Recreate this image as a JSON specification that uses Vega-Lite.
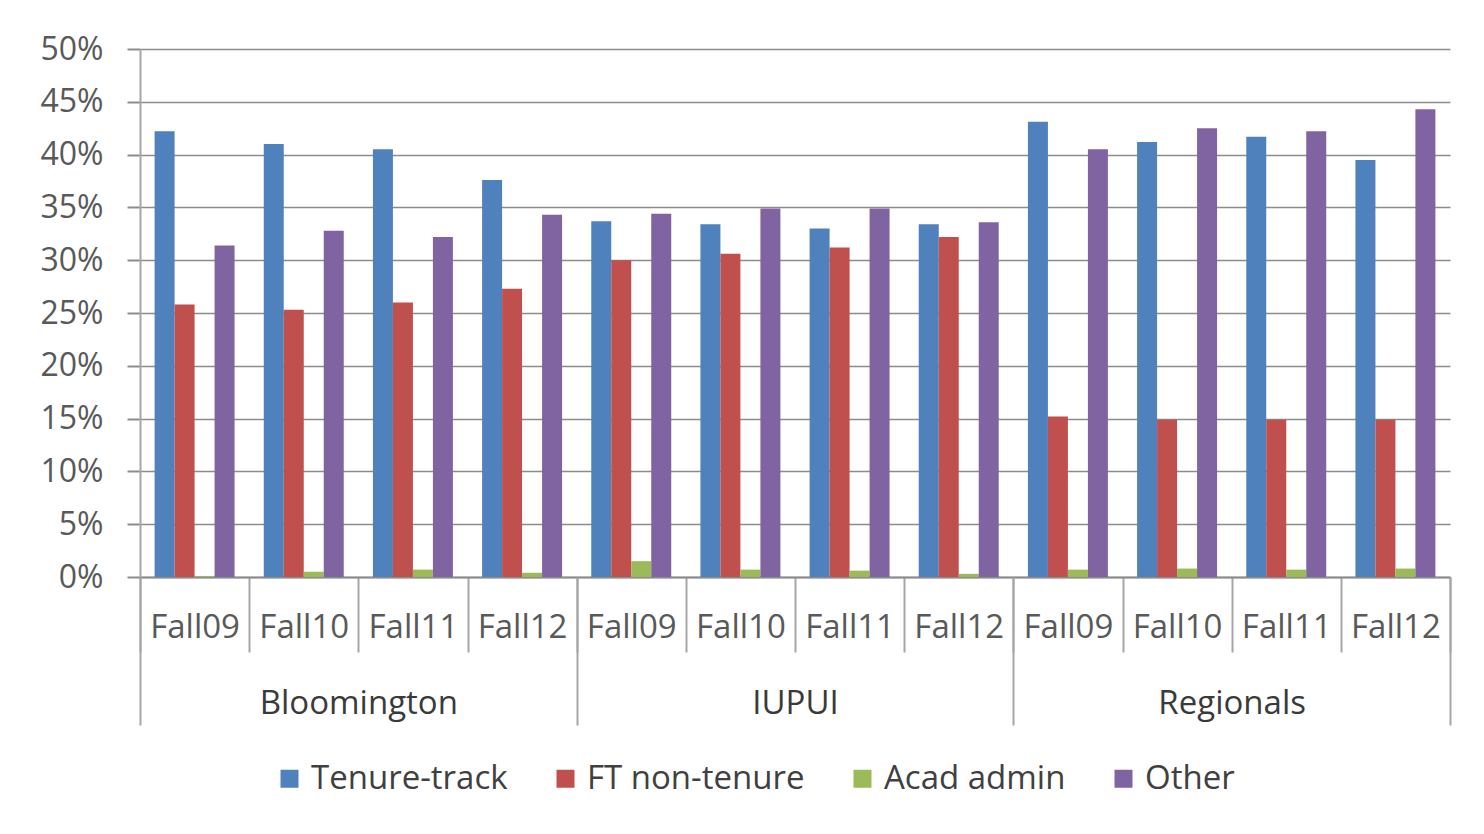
{
  "$schema": "https://vega.github.io/schema/vega-lite/v6.json",
  "width": 1310,
  "height": 528,
  "autosize": "none",
  "padding": {"left": 140, "top": 49, "right": 34, "bottom": 257},
  "background": "white",
  "config": {
    "font": "Open Sans",
    "view": {"stroke": null},
    "axis": {"labelFont": "Open Sans"},
    "legend": {"labelFont": "Open Sans"}
  },
  "data": {
    "values": [
      {"campus": "Bloomington", "year": "Fall09", "period": "Bloomington|Fall09", "series": "Tenure-track", "value": 0.422},
      {"campus": "Bloomington", "year": "Fall09", "period": "Bloomington|Fall09", "series": "FT non-tenure", "value": 0.258},
      {"campus": "Bloomington", "year": "Fall09", "period": "Bloomington|Fall09", "series": "Acad admin", "value": 0.001},
      {"campus": "Bloomington", "year": "Fall09", "period": "Bloomington|Fall09", "series": "Other", "value": 0.314},
      {"campus": "Bloomington", "year": "Fall10", "period": "Bloomington|Fall10", "series": "Tenure-track", "value": 0.410},
      {"campus": "Bloomington", "year": "Fall10", "period": "Bloomington|Fall10", "series": "FT non-tenure", "value": 0.253},
      {"campus": "Bloomington", "year": "Fall10", "period": "Bloomington|Fall10", "series": "Acad admin", "value": 0.005},
      {"campus": "Bloomington", "year": "Fall10", "period": "Bloomington|Fall10", "series": "Other", "value": 0.328},
      {"campus": "Bloomington", "year": "Fall11", "period": "Bloomington|Fall11", "series": "Tenure-track", "value": 0.405},
      {"campus": "Bloomington", "year": "Fall11", "period": "Bloomington|Fall11", "series": "FT non-tenure", "value": 0.260},
      {"campus": "Bloomington", "year": "Fall11", "period": "Bloomington|Fall11", "series": "Acad admin", "value": 0.007},
      {"campus": "Bloomington", "year": "Fall11", "period": "Bloomington|Fall11", "series": "Other", "value": 0.322},
      {"campus": "Bloomington", "year": "Fall12", "period": "Bloomington|Fall12", "series": "Tenure-track", "value": 0.376},
      {"campus": "Bloomington", "year": "Fall12", "period": "Bloomington|Fall12", "series": "FT non-tenure", "value": 0.273},
      {"campus": "Bloomington", "year": "Fall12", "period": "Bloomington|Fall12", "series": "Acad admin", "value": 0.004},
      {"campus": "Bloomington", "year": "Fall12", "period": "Bloomington|Fall12", "series": "Other", "value": 0.343},
      {"campus": "IUPUI", "year": "Fall09", "period": "IUPUI|Fall09", "series": "Tenure-track", "value": 0.337},
      {"campus": "IUPUI", "year": "Fall09", "period": "IUPUI|Fall09", "series": "FT non-tenure", "value": 0.300},
      {"campus": "IUPUI", "year": "Fall09", "period": "IUPUI|Fall09", "series": "Acad admin", "value": 0.015},
      {"campus": "IUPUI", "year": "Fall09", "period": "IUPUI|Fall09", "series": "Other", "value": 0.344},
      {"campus": "IUPUI", "year": "Fall10", "period": "IUPUI|Fall10", "series": "Tenure-track", "value": 0.334},
      {"campus": "IUPUI", "year": "Fall10", "period": "IUPUI|Fall10", "series": "FT non-tenure", "value": 0.306},
      {"campus": "IUPUI", "year": "Fall10", "period": "IUPUI|Fall10", "series": "Acad admin", "value": 0.007},
      {"campus": "IUPUI", "year": "Fall10", "period": "IUPUI|Fall10", "series": "Other", "value": 0.349},
      {"campus": "IUPUI", "year": "Fall11", "period": "IUPUI|Fall11", "series": "Tenure-track", "value": 0.330},
      {"campus": "IUPUI", "year": "Fall11", "period": "IUPUI|Fall11", "series": "FT non-tenure", "value": 0.312},
      {"campus": "IUPUI", "year": "Fall11", "period": "IUPUI|Fall11", "series": "Acad admin", "value": 0.006},
      {"campus": "IUPUI", "year": "Fall11", "period": "IUPUI|Fall11", "series": "Other", "value": 0.349},
      {"campus": "IUPUI", "year": "Fall12", "period": "IUPUI|Fall12", "series": "Tenure-track", "value": 0.334},
      {"campus": "IUPUI", "year": "Fall12", "period": "IUPUI|Fall12", "series": "FT non-tenure", "value": 0.322},
      {"campus": "IUPUI", "year": "Fall12", "period": "IUPUI|Fall12", "series": "Acad admin", "value": 0.003},
      {"campus": "IUPUI", "year": "Fall12", "period": "IUPUI|Fall12", "series": "Other", "value": 0.336},
      {"campus": "Regionals", "year": "Fall09", "period": "Regionals|Fall09", "series": "Tenure-track", "value": 0.431},
      {"campus": "Regionals", "year": "Fall09", "period": "Regionals|Fall09", "series": "FT non-tenure", "value": 0.152},
      {"campus": "Regionals", "year": "Fall09", "period": "Regionals|Fall09", "series": "Acad admin", "value": 0.007},
      {"campus": "Regionals", "year": "Fall09", "period": "Regionals|Fall09", "series": "Other", "value": 0.405},
      {"campus": "Regionals", "year": "Fall10", "period": "Regionals|Fall10", "series": "Tenure-track", "value": 0.412},
      {"campus": "Regionals", "year": "Fall10", "period": "Regionals|Fall10", "series": "FT non-tenure", "value": 0.149},
      {"campus": "Regionals", "year": "Fall10", "period": "Regionals|Fall10", "series": "Acad admin", "value": 0.008},
      {"campus": "Regionals", "year": "Fall10", "period": "Regionals|Fall10", "series": "Other", "value": 0.425},
      {"campus": "Regionals", "year": "Fall11", "period": "Regionals|Fall11", "series": "Tenure-track", "value": 0.417},
      {"campus": "Regionals", "year": "Fall11", "period": "Regionals|Fall11", "series": "FT non-tenure", "value": 0.149},
      {"campus": "Regionals", "year": "Fall11", "period": "Regionals|Fall11", "series": "Acad admin", "value": 0.007},
      {"campus": "Regionals", "year": "Fall11", "period": "Regionals|Fall11", "series": "Other", "value": 0.422},
      {"campus": "Regionals", "year": "Fall12", "period": "Regionals|Fall12", "series": "Tenure-track", "value": 0.395},
      {"campus": "Regionals", "year": "Fall12", "period": "Regionals|Fall12", "series": "FT non-tenure", "value": 0.149},
      {"campus": "Regionals", "year": "Fall12", "period": "Regionals|Fall12", "series": "Acad admin", "value": 0.008},
      {"campus": "Regionals", "year": "Fall12", "period": "Regionals|Fall12", "series": "Other", "value": 0.443}
    ]
  },
  "layer": [
    {
      "mark": {"type": "bar", "strokeWidth": 0},
      "encoding": {
        "x": {
          "field": "period",
          "type": "nominal",
          "sort": null,
          "scale": {"paddingInner": 0, "paddingOuter": 0},
          "axis": {
            "orient": "bottom",
            "title": null,
            "labelExpr": "split(datum.value, '|')[1]",
            "labelAngle": 0,
            "labelFontSize": 33,
            "labelLimit": 0,
            "labelColor": "#595959",
            "labelBaseline": "middle",
            "labelPadding": -25,
            "tickBand": "extent",
            "tickSize": 75,
            "tickColor": "#a6a6a6",
            "tickWidth": 2,
            "domainColor": "#8c8c8c",
            "domainWidth": 2,
            "grid": false
          }
        },
        "xOffset": {
          "field": "series",
          "type": "nominal",
          "sort": ["Tenure-track", "FT non-tenure", "Acad admin", "Other"],
          "scale": {"paddingInner": 0, "paddingOuter": 0.73}
        },
        "y": {
          "field": "value",
          "type": "quantitative",
          "scale": {"domain": [0, 0.5], "nice": false},
          "axis": {
            "title": null,
            "format": ".0%",
            "values": [0, 0.05, 0.1, 0.15, 0.2, 0.25, 0.3, 0.35, 0.4, 0.45, 0.5],
            "labelFontSize": 32,
            "labelColor": "#595959",
            "labelPadding": 24,
            "tickSize": 13,
            "tickColor": "#8c8c8c",
            "tickWidth": 2,
            "domainColor": "#a6a6a6",
            "domainWidth": 2,
            "gridColor": "#8c8c8c",
            "gridWidth": 1.6
          }
        },
        "color": {
          "field": "series",
          "type": "nominal",
          "scale": {
            "domain": ["Tenure-track", "FT non-tenure", "Acad admin", "Other"],
            "range": ["#4F81BD", "#C0504D", "#9BBB59", "#8064A2"]
          },
          "legend": {
            "title": null,
            "orient": "none",
            "legendX": 133,
            "legendY": 713,
            "direction": "horizontal",
            "symbolType": "square",
            "symbolSize": 324,
            "symbolStrokeWidth": 0,
            "labelFontSize": 33,
            "labelColor": "#404040",
            "labelOffset": 5,
            "labelLimit": 0,
            "columnPadding": 41
          }
        }
      }
    },
    {
      "mark": {"type": "bar", "opacity": 0},
      "encoding": {
        "x": {
          "field": "campus",
          "type": "nominal",
          "sort": ["Bloomington", "IUPUI", "Regionals"],
          "scale": {"paddingInner": 0, "paddingOuter": 0},
          "axis": {
            "orient": "bottom",
            "title": null,
            "labelAngle": 0,
            "labelFontSize": 33,
            "labelLimit": 0,
            "labelColor": "#3a3a3a",
            "labelBaseline": "middle",
            "labelPadding": -22,
            "tickBand": "extent",
            "tickSize": 148,
            "tickColor": "#a6a6a6",
            "tickWidth": 2,
            "domain": false,
            "grid": false
          }
        }
      }
    }
  ],
  "resolve": {"scale": {"x": "independent"}, "axis": {"x": "independent"}}
}
